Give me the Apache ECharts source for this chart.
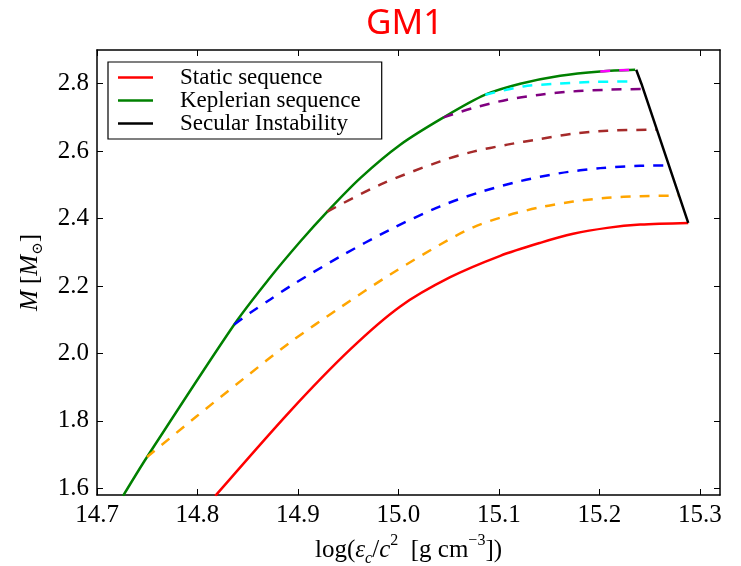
<!DOCTYPE html>
<html>
<head>
<meta charset="utf-8">
<script src="https://cdn.jsdelivr.net/npm/echarts@6/dist/echarts.min.js"></script>
<style>html,body{margin:0;padding:0;background:#fff}#c{width:741px;height:566px}</style>
</head>
<body>
<div id="c"></div>
<script>
const xTicks = [14.7, 14.8, 14.9, 15.0, 15.1, 15.2, 15.3];
const yTicks = [1.6, 1.8, 2.0, 2.2, 2.4, 2.6, 2.8];

const staticSeq = [[14.8177,1.5772],[14.8923,1.829],[14.952,2.0119],[15.0018,2.1393],[15.0515,2.226],[15.1013,2.2895],[15.1411,2.328],[15.1739,2.3547],[15.2078,2.3724],[15.2406,2.3822],[15.2884,2.387]];
const keplerSeq = [[14.7259,1.5772],[14.7498,1.6927],[14.8366,2.0859],[14.8707,2.2193],[14.9023,2.3319],[14.9292,2.4207],[14.962,2.52],[15.0018,2.619],[15.0449,2.70],[15.0864,2.7674],[15.1212,2.80],[15.161,2.8238],[15.2008,2.8365],[15.2356,2.8415]];
const secular = [[15.2884,2.387],[15.2418,2.80],[15.2366,2.8415]];
const orangeSeq = [[14.7498,1.6927],[14.7995,1.8142],[14.8459,1.925],[14.8923,2.033],[14.9421,2.1363],[14.9918,2.2341],[15.0416,2.323],[15.0744,2.374],[15.1083,2.409],[15.1411,2.4335],[15.1739,2.4505],[15.2078,2.4615],[15.2406,2.4665],[15.2791,2.4681]];
const blueSeq = [[14.8366,2.0859],[14.8525,2.1206],[14.8724,2.16],[14.8923,2.1994],[14.9421,2.2874],[14.9918,2.3674],[15.0416,2.4364],[15.0814,2.4785],[15.1212,2.5111],[15.161,2.5348],[15.2008,2.5496],[15.2406,2.5564],[15.2689,2.5579]];
const brownSeq = [[14.9292,2.4207],[14.9819,2.5007],[15.0416,2.5698],[15.0744,2.5985],[15.1083,2.6193],[15.1411,2.636],[15.1739,2.6515],[15.2078,2.6605],[15.2567,2.6637]];
const purpleSeq = [[15.0449,2.70],[15.0744,2.728],[15.1083,2.7526],[15.1411,2.7674],[15.1739,2.7772],[15.2078,2.7822],[15.2430,2.7843]];
const cyanSeq = [[15.0864,2.7674],[15.1242,2.792],[15.158,2.8],[15.1909,2.805],[15.2339,2.8068]];
const magentaSeq = [[15.2008,2.8365],[15.22,2.8398],[15.2366,2.8415]];

const SERIF = 'Liberation Serif';
const DASH = [10, 9];
const SMOOTH = 0.3;

function solid(name, data, color, smooth) {
  return { name: name, type: 'line', data: data, symbol: 'none', showSymbol: false,
    smooth: smooth, lineStyle: { color: color, width: 2.5 }, itemStyle: { color: color },
    emphasis: { disabled: true }, animation: false };
}
function dashed(data, color) {
  return { type: 'line', data: data, symbol: 'none', showSymbol: false, smooth: SMOOTH,
    lineStyle: { color: color, width: 2.5, type: DASH }, itemStyle: { color: color },
    emphasis: { disabled: true }, animation: false };
}

const axisLine = { show: true, onZero: false, lineStyle: { color: '#000', width: 1.5 } };
const chart = echarts.init(document.getElementById('c'), null, { renderer: 'canvas' });
chart.setOption({
  backgroundColor: '#fff',
  animation: false,
  title: { text: 'GM1', left: 361, top: 2,
    textStyle: { color: '#ff0000', fontFamily: 'Noto Sans', fontSize: 35, fontWeight: 'normal' } },
  grid: { left: 97, right: 21, top: 50, bottom: 71, outerBoundsMode: 'none', containLabel: false },
  legend: {
    data: ['Static sequence', 'Keplerian sequence', 'Secular Instability'],
    orient: 'vertical', left: 108, top: 62, itemWidth: 35, itemHeight: 2.5, itemGap: 0,
    icon: 'rect',
    padding: [4, 21, 4, 10], borderColor: '#000', borderWidth: 1.2, backgroundColor: '#fff',
    textStyle: { fontFamily: SERIF, fontSize: 23, lineHeight: 23, color: '#000', padding: [0, 0, 0, 22] },
    selectedMode: false
  },
  xAxis: [
    { type: 'value', min: 14.7, max: 15.32, position: 'bottom', axisLine: axisLine,
      axisTick: { show: true, inside: true, length: 6, customValues: xTicks, lineStyle: { color: '#000', width: 1 } },
      axisLabel: { customValues: xTicks, formatter: v => v.toFixed(1), fontFamily: SERIF, fontSize: 25, color: '#000', margin: 8 },
      splitLine: { show: false },
      name: 'log({i|ε}{sub|c}/{i|c}{sup|2}  [g cm{sup|−3}])', nameLocation: 'middle', nameGap: 38,
      nameTextStyle: { fontFamily: SERIF, fontSize: 25, color: '#000', lineHeight: 34,
        rich: {
          i: { fontFamily: SERIF, fontSize: 25, fontStyle: 'italic', color: '#000', lineHeight: 34 },
          sub: { fontFamily: SERIF, fontSize: 16, fontStyle: 'italic', color: '#000', verticalAlign: 'bottom', lineHeight: 34 },
          sup: { fontFamily: SERIF, fontSize: 16, color: '#000', verticalAlign: 'top', lineHeight: 34 }
        } } },
    { type: 'value', min: 14.7, max: 15.32, position: 'top', axisLine: axisLine,
      axisTick: { show: true, inside: true, length: 6, customValues: xTicks, lineStyle: { color: '#000', width: 1 } },
      axisLabel: { show: false, customValues: xTicks }, splitLine: { show: false } }
  ],
  yAxis: [
    { type: 'value', min: 1.58, max: 2.9, position: 'left', axisLine: axisLine,
      axisTick: { show: true, inside: true, length: 6, customValues: yTicks, lineStyle: { color: '#000', width: 1 } },
      axisLabel: { customValues: yTicks, formatter: v => v.toFixed(1), fontFamily: SERIF, fontSize: 25, color: '#000', margin: 8 },
      splitLine: { show: false },
      name: '{i|M} [{i|M}{sub|⊙}]', nameLocation: 'middle', nameGap: 51, nameRotate: 90,
      nameTextStyle: { fontFamily: SERIF, fontSize: 25, color: '#000', lineHeight: 32,
        rich: {
          i: { fontFamily: SERIF, fontSize: 25, fontStyle: 'italic', color: '#000', lineHeight: 32 },
          sub: { fontFamily: 'DejaVu Serif', fontSize: 15, color: '#000', verticalAlign: 'bottom', lineHeight: 32 }
        } } },
    { type: 'value', min: 1.58, max: 2.9, position: 'right', axisLine: axisLine,
      axisTick: { show: true, inside: true, length: 6, customValues: yTicks, lineStyle: { color: '#000', width: 1 } },
      axisLabel: { show: false, customValues: yTicks }, splitLine: { show: false } }
  ],
  series: [
    solid('Keplerian sequence', keplerSeq, '#008000', SMOOTH),
    dashed(orangeSeq, '#ffa500'),
    dashed(blueSeq, '#0000ff'),
    dashed(brownSeq, '#a52a2a'),
    dashed(purpleSeq, '#800080'),
    dashed(cyanSeq, '#00ffff'),
    dashed(magentaSeq, '#ff00ff'),
    solid('Static sequence', staticSeq, '#ff0000', SMOOTH),
    solid('Secular Instability', secular, '#000000', false)
  ]
});
</script>
</body>
</html>
